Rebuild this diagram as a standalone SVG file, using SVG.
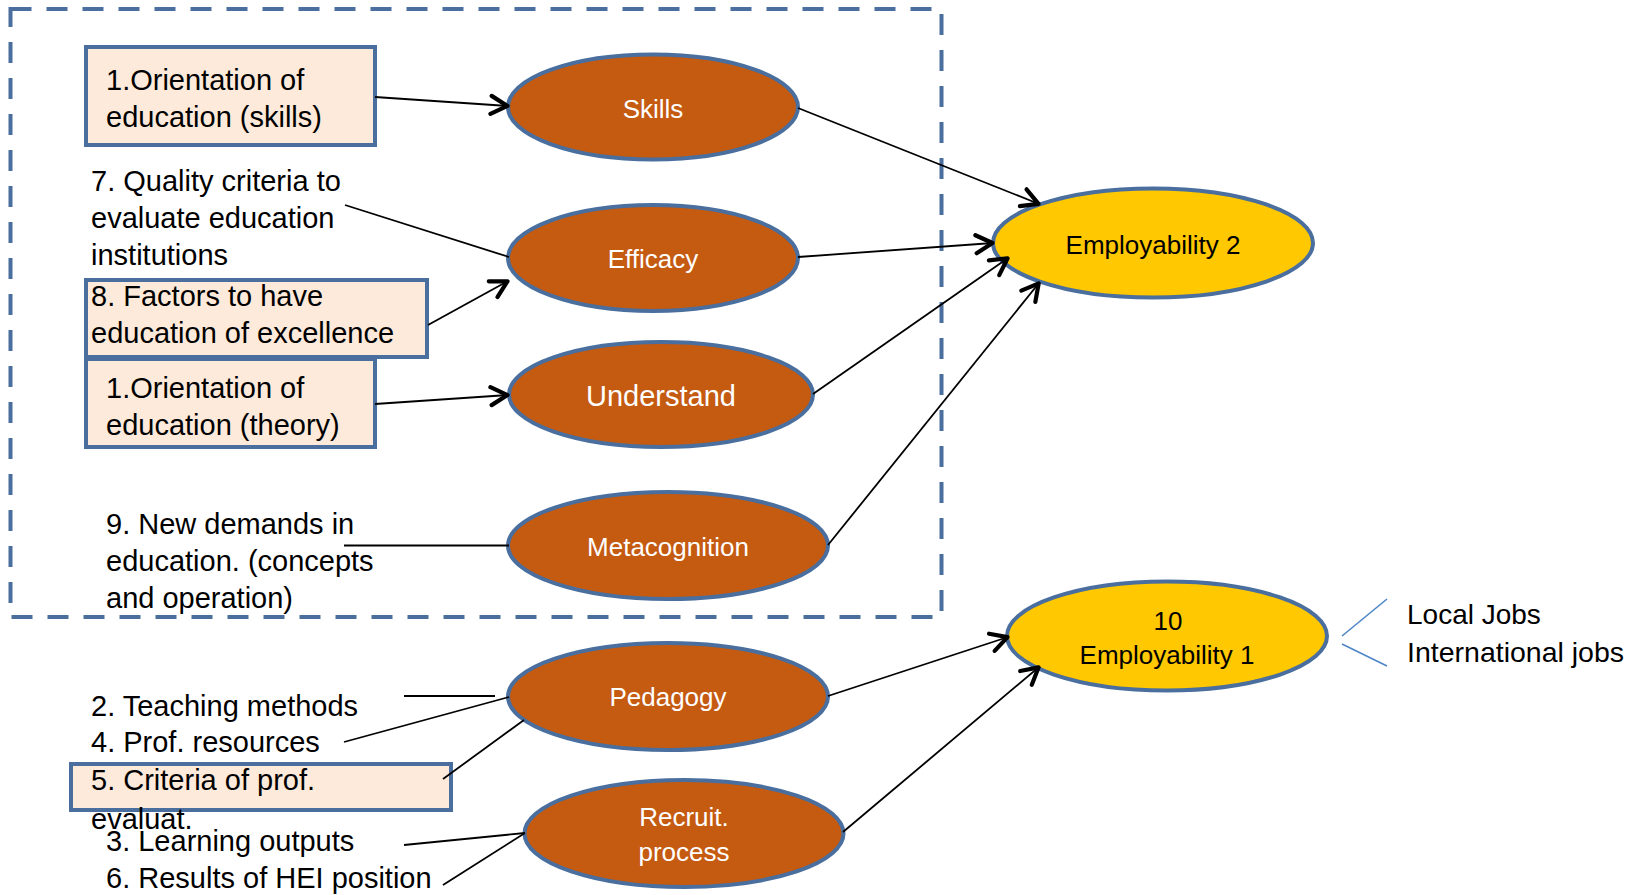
<svg xmlns="http://www.w3.org/2000/svg" width="1647" height="895" viewBox="0 0 1647 895">
  <defs>
    <marker id="open-arrow" markerUnits="userSpaceOnUse" viewBox="0 0 22 24" refX="20" refY="12" markerWidth="22" markerHeight="24" orient="auto">
      <path d="M3,3 L19.5,12 L3,21" fill="none" stroke="#000" stroke-width="4.2" stroke-linecap="round" stroke-linejoin="round"/>
    </marker>
  </defs>
  <style>
    .frame { fill: none; stroke: #4A6F9E; stroke-width: 4; stroke-dasharray: 21 15; }
    .box { fill: #FDEADA; stroke: #4A6F9E; stroke-width: 4; }
    .factor { fill: #C55A11; stroke: #4A6F9E; stroke-width: 4; }
    .outcome { fill: #FFC800; stroke: #4A6F9E; stroke-width: 4; }
    .lbl { font-family: "Liberation Sans", Arial, sans-serif; font-size: 29px; fill: #000; }
    .in { font-family: "Liberation Sans", Arial, sans-serif; font-size: 26px; fill: #fff; text-anchor: middle; }
    .out { font-family: "Liberation Sans", Arial, sans-serif; font-size: 26px; fill: #000; text-anchor: middle; }
    .link { fill: none; stroke: #000; stroke-width: 1.8; }
    .arrow { marker-end: url(#open-arrow); }
    .split { fill: none; stroke: #4F86C6; stroke-width: 1.6; }
  </style>

  <rect class="frame" x="10.5" y="9" width="931" height="608"/>

  <!-- source boxes and free labels -->
  <g id="src-skills">
    <rect class="box" x="86" y="47" width="289" height="98"/>
    <text class="lbl" x="106" y="90">1.Orientation of</text>
    <text class="lbl" x="106" y="127">education (skills)</text>
  </g>
  <g id="src-quality">
    <text class="lbl" x="91" y="191">7. Quality criteria to</text>
    <text class="lbl" x="91" y="228">evaluate education</text>
    <text class="lbl" x="91" y="265">institutions</text>
  </g>
  <g id="src-factors">
    <rect class="box" x="86" y="280" width="341" height="77"/>
    <text class="lbl" x="91" y="306">8. Factors to have</text>
    <text class="lbl" x="91" y="343">education of excellence</text>
  </g>
  <g id="src-theory">
    <rect class="box" x="86" y="359" width="289" height="88"/>
    <text class="lbl" x="106" y="398">1.Orientation of</text>
    <text class="lbl" x="106" y="435">education (theory)</text>
  </g>
  <g id="src-demands">
    <text class="lbl" x="106" y="534">9. New demands in</text>
    <text class="lbl" x="106" y="571">education. (concepts</text>
    <text class="lbl" x="106" y="608">and operation)</text>
  </g>
  <g id="src-teaching">
    <text class="lbl" x="91" y="716">2. Teaching methods</text>
  </g>
  <g id="src-resources">
    <text class="lbl" x="91" y="752">4. Prof. resources</text>
  </g>
  <g id="src-criteria">
    <rect class="box" x="71" y="764" width="380" height="46"/>
    <text class="lbl" x="91" y="790">5. Criteria of prof.</text>
    <text class="lbl" x="91" y="829">evaluat.</text>
  </g>
  <g id="src-learning">
    <text class="lbl" x="106" y="851">3. Learning outputs</text>
  </g>
  <g id="src-hei">
    <text class="lbl" x="106" y="888">6. Results of HEI position</text>
  </g>

  <!-- intermediate factors -->
  <g id="skills">
    <ellipse class="factor" cx="653" cy="107" rx="145" ry="52.5"/>
    <text class="in" x="653" y="118">Skills</text>
  </g>
  <g id="efficacy">
    <ellipse class="factor" cx="653" cy="258" rx="145" ry="53"/>
    <text class="in" x="653" y="268">Efficacy</text>
  </g>
  <g id="understand">
    <ellipse class="factor" cx="661" cy="394.5" rx="152" ry="52.5"/>
    <text class="in" x="661" y="406" style="font-size:29px">Understand</text>
  </g>
  <g id="metacognition">
    <ellipse class="factor" cx="668" cy="545.5" rx="160" ry="53.5"/>
    <text class="in" x="668" y="556">Metacognition</text>
  </g>
  <g id="pedagogy">
    <ellipse class="factor" cx="668" cy="696.5" rx="160" ry="53.5"/>
    <text class="in" x="668" y="706">Pedagogy</text>
  </g>
  <g id="recruit">
    <ellipse class="factor" cx="684" cy="833.5" rx="159.5" ry="53.5"/>
    <text class="in" x="684" y="826">Recruit.</text>
    <text class="in" x="684" y="861">process</text>
  </g>

  <!-- outcomes -->
  <g id="employability-2">
    <ellipse class="outcome" cx="1153" cy="243" rx="160" ry="54.5"/>
    <text class="out" x="1153" y="254">Employability 2</text>
  </g>
  <g id="employability-1">
    <ellipse class="outcome" cx="1167" cy="636" rx="160" ry="54.5"/>
    <text class="out" x="1168" y="630">10</text>
    <text class="out" x="1167" y="664">Employability 1</text>
  </g>
  <g id="job-types">
    <path class="split" d="M1387,599 L1342,636 M1342,644 L1387,666"/>
    <text class="lbl" x="1407" y="624" style="font-size:28px">Local Jobs</text>
    <text class="lbl" x="1407" y="662" style="font-size:28.5px">International jobs</text>
  </g>

  <!-- connectors -->
  <g id="connectors">
    <line class="link arrow" x1="375" y1="97" x2="508" y2="106"/>
    <line class="link" x1="345" y1="205" x2="509" y2="257"/>
    <line class="link arrow" x1="428" y1="325" x2="508" y2="281"/>
    <line class="link arrow" x1="375" y1="404" x2="508" y2="395"/>
    <line class="link" x1="344" y1="545.5" x2="509" y2="545.5"/>
    <line class="link" x1="404" y1="696" x2="495" y2="696"/>
    <line class="link" x1="344" y1="742" x2="509" y2="697"/>
    <line class="link" x1="443" y1="779" x2="524" y2="720"/>
    <line class="link" x1="404" y1="845" x2="525" y2="833"/>
    <line class="link" x1="443" y1="885" x2="525" y2="833"/>

    <line class="link arrow" x1="798" y1="108" x2="1039" y2="204"/>
    <line class="link arrow" x1="798" y1="257" x2="993" y2="243"/>
    <line class="link arrow" x1="813" y1="394" x2="1008" y2="258"/>
    <line class="link arrow" x1="828" y1="545" x2="1039" y2="283"/>
    <line class="link arrow" x1="828" y1="696" x2="1008" y2="637"/>
    <line class="link arrow" x1="843" y1="832" x2="1039" y2="667"/>
  </g>
</svg>
